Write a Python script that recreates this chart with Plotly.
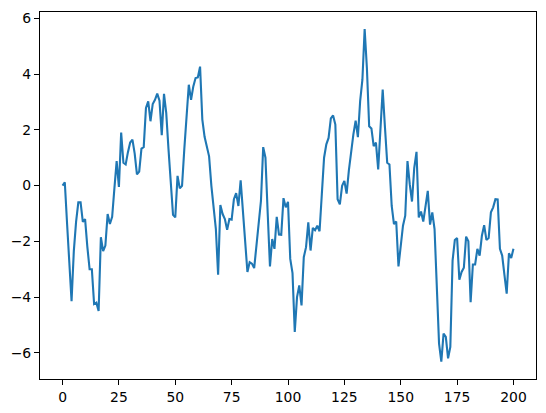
import plotly.graph_objects as go

# step index and walk values
steps = list(range(201))
walk = [
    0.0, 0.12, -1.35, -2.75, -4.15, -2.35, -1.3, -0.6, -0.6, -1.3,
    -1.2, -2.2, -3.0, -3.0, -4.25, -4.2, -4.5, -1.85, -2.35, -2.15,
    -1.02, -1.38, -1.12, -0.1, 0.88, -0.05, 1.9, 0.82, 0.76, 1.2,
    1.55, 1.65, 1.15, 0.4, 0.5, 1.33, 1.38, 2.79, 3.02, 2.31,
    2.93, 3.08, 3.3, 3.05, 1.81, 3.29, 2.6, 1.3, 0.0, -1.05,
    -1.14, 0.35, -0.1, -0.01, 1.3, 2.5, 3.62, 3.08, 3.56, 3.86,
    3.88, 4.27, 2.37, 1.75, 1.4, 1.05, 0.0, -0.9, -1.55, -3.2,
    -0.7, -1.02, -1.2, -1.59, -1.2, -1.22, -0.49, -0.27, -0.73, 0.19,
    -0.95, -2.05, -3.1, -2.75, -2.8, -2.96, -2.15, -1.35, -0.55, 1.38,
    1.0, -1.0, -2.9, -1.92, -2.27, -1.12, -1.76, -1.77, -0.45, -0.78,
    -0.58, -2.63, -3.14, -5.25, -4.0, -3.58, -4.3, -2.57, -2.21, -1.32,
    -2.33, -1.52, -1.6, -1.44, -1.64, -0.31, 1.0, 1.48, 1.71, 2.41,
    2.52, 2.19, -0.49, -0.67, -0.01, 0.17, -0.29, 0.55, 1.3, 1.84,
    2.33, 1.74, 3.03, 3.8, 5.62, 4.21, 2.13, 2.05, 1.42, 1.54,
    0.58, 2.0, 3.45, 2.1, 0.82, 0.76, -0.73, -1.38, -1.29, -2.9,
    -2.1, -1.44, -1.08, 0.88, 0.05, -0.57, 0.64, 1.21, -1.14, -0.93,
    -1.29, -0.64, -0.19, -1.4, -0.96, -1.56, -3.6, -5.67, -6.32, -5.31,
    -5.43, -6.2, -5.79, -2.69, -1.95, -1.88, -3.38, -3.1, -2.95, -1.83,
    -2.0, -4.18, -2.83, -2.83, -2.27, -2.51, -1.8, -1.42, -1.95, -1.88,
    -0.96, -0.78, -0.49, -0.5, -2.27, -2.51, -3.2, -3.88, -2.43, -2.6,
    -2.27,
]

x_ticks = [0, 25, 50, 75, 100, 125, 150, 175, 200]
y_ticks = [-6, -4, -2, 0, 2, 4, 6]

fig = go.Figure(
    go.Scatter(
        x=steps,
        y=walk,
        mode="lines",
        line=dict(color="#1f77b4", width=2.1),
        hoverinfo="skip",
    )
)

axis_style = dict(
    showline=True,
    linecolor="black",
    linewidth=1.1,
    mirror=True,
    showgrid=False,
    zeroline=False,
    ticks="outside",
    ticklen=5,
    tickwidth=1.1,
    tickcolor="black",
    tickfont=dict(family="DejaVu Sans", size=13.9, color="black"),
)

# page body adds an 8px offset, so the figure is 8px smaller than the window
fig.update_layout(
    width=538,
    height=405,
    margin=dict(l=32, r=10, t=2, b=34),
    paper_bgcolor="white",
    plot_bgcolor="white",
    showlegend=False,
    xaxis=dict(range=[-10, 210], tickvals=x_ticks, **axis_style),
    yaxis=dict(range=[-6.94, 6.23], tickvals=y_ticks, **axis_style),
)

fig.write_html("out.html")
